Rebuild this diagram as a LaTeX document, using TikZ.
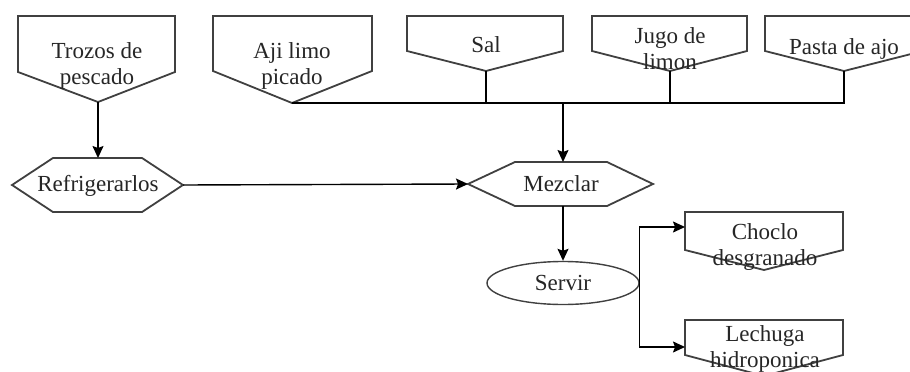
\documentclass[tikz,border=0pt]{standalone}
\usepackage{fontspec}
\setmainfont{Liberation Serif}
\usetikzlibrary{arrows.meta,shapes.geometric}
\begin{document}
\begin{tikzpicture}[x=1pt,y=-1pt,
  lbl/.style={font=\fontsize{23}{26}\selectfont, align=center, inner sep=0pt, text=black!85},
  shapeline/.style={draw=black!75, line width=1.8pt, line join=miter},
  link/.style={draw=black, line width=1.4pt},
  arr/.style={link, -{Stealth[length=12pt,width=11pt,inset=2pt]}}]
\useasboundingbox[fill=white] (0,0) rectangle (910,372);

% ingredient inputs (off-page shapes)
\draw[shapeline] (18,16) -- (175,16) -- (175,72) -- (98,102) -- (18,72) -- cycle;
\draw[shapeline] (213,16) -- (372,16) -- (372,71) -- (292,103) -- (213,71) -- cycle;
\draw[shapeline] (407,16) -- (563,16) -- (563,51) -- (486,71) -- (407,51) -- cycle;
\draw[shapeline] (592,16) -- (747,16) -- (747,51) -- (670,71) -- (592,51) -- cycle;
\draw[shapeline] (765,16) -- (923,16) -- (923,51) -- (844,71) -- (765,51) -- cycle;
\coordinate (trozosTip) at (98,102);
\coordinate (ajiTip) at (292,103);
\coordinate (salTip) at (486,71);
\coordinate (jugoTip) at (670,71);
\coordinate (pastaTip) at (844,71);

\node[lbl] (trozos) at (97,66) {Trozos de\\pescado};
\node[lbl] (aji) at (292,66) {Aji limo\\picado};
\node[lbl] (sal) at (486,45) {Sal};
\node[lbl] (jugo) at (670,49) {Jugo de\\limon};
\node[lbl] (pasta) at (844,49) {Pasta de ajo};

% process steps (hexagons)
\draw[shapeline] (12,185) -- (53,158) -- (142,158) -- (183,185) -- (142,212) -- (53,212) -- cycle;
\draw[shapeline] (468,184) -- (515,162) -- (607,162) -- (653,184) -- (607,206) -- (515,206) -- cycle;
\coordinate (refriN) at (98,158);
\coordinate (refriE) at (183,185);
\coordinate (mezN) at (563,162);
\coordinate (mezW) at (468,184);
\coordinate (mezS) at (563,206);
\node[lbl] (refri) at (98,186) {Refrigerarlos};
\node[lbl] (mezclar) at (561,184) {Mezclar};

% serving
\node[lbl, ellipse, draw=black!75, line width=1.4pt, minimum width=152pt, minimum height=43pt] (servir) at (563,283) {Servir};

% side dishes
\draw[shapeline] (685,212) -- (843,212) -- (843,250) -- (764,270) -- (685,250) -- cycle;
\draw[shapeline] (685,320) -- (843,320) -- (843,355) -- (764,376) -- (685,355) -- cycle;
\coordinate (chocloW) at (685,227);
\coordinate (lechugaW) at (685,347);
\node[lbl] (choclo) at (765,247) {Choclo\\desgranado};
\node[lbl] (lechuga) at (765,349) {Lechuga\\hidroponica};

% connectors
\coordinate (busJ) at (563,103);
\draw[arr] (trozosTip) -- (refriN);
\draw[link] (ajiTip) -| (pastaTip);
\draw[link] (salTip) -- (salTip |- ajiTip);
\draw[link] (jugoTip) -- (jugoTip |- ajiTip);
\draw[arr] (busJ) -- (mezN);
\draw[arr] (refriE) -- (mezW);
\draw[arr] (mezS) -- (servir.north);
\draw[arr] (servir.east) |- (chocloW);
\draw[arr] (servir.east) |- (lechugaW);
\end{tikzpicture}
\end{document}
